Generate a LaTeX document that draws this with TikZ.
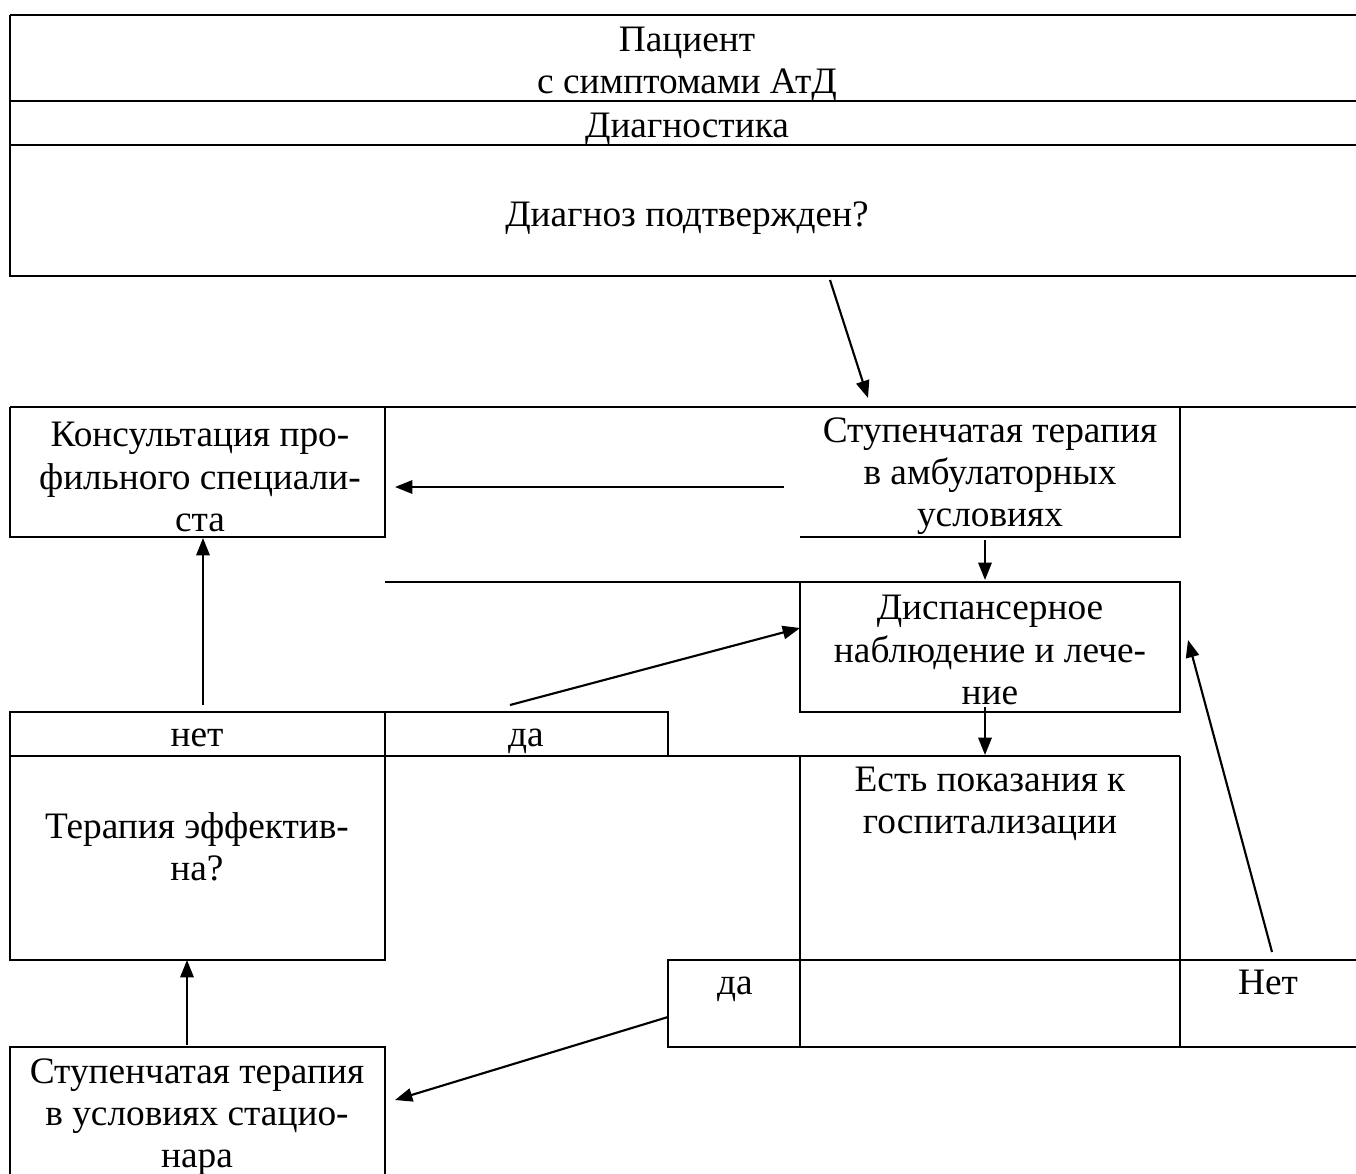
\documentclass[tikz,border=0pt]{standalone}
\usepackage{fontspec}
\setmainfont{Liberation Serif}
\usetikzlibrary{arrows.meta}
\begin{document}
\begin{tikzpicture}[x=0.75pt,y=-0.75pt,
  rule/.style={line width=1.7pt},
  conn/.style={line width=1.6pt,-{Triangle[length=13pt,width=10pt]}},
  lbl/.style={inner sep=0pt,align=center,font=\fontsize{28}{31.7}\selectfont}]
\useasboundingbox (0,0) rectangle (1356,1174);
% ---- frame lines ----
\draw[rule] (10,15) -- (1356,15);
\draw[rule] (10,15) -- (10,276) -- (1356,276);
\draw[rule] (10,101) -- (1356,101);
\draw[rule] (10,145) -- (1356,145);
\draw[rule] (10,407) -- (1356,407);
\draw[rule] (10,407) -- (10,537) -- (385,537) -- (385,407);
\draw[rule] (800,537) -- (1180,537) -- (1180,407);
\draw[rule] (385,582) -- (1180,582) -- (1180,712) -- (800,712) -- (800,582);
\draw[rule] (10,756) -- (10,712) -- (668,712) -- (668,756);
\draw[rule] (385,712) -- (385,756);
\draw[rule] (10,756) -- (1180,756);
\draw[rule] (10,756) -- (10,960) -- (385,960) -- (385,756);
\draw[rule] (800,756) -- (800,1047);
\draw[rule] (1180,756) -- (1180,1047);
\draw[rule] (1356,960) -- (668,960) -- (668,1047) -- (1356,1047);
\draw[rule] (10,1174) -- (10,1047) -- (385,1047) -- (385,1174);
% ---- texts ----
\node[lbl] (patient) at (687,64) {Пациент\\с симптомами АтД};
\node[lbl] (diag) at (687,129) {Диагностика};
\node[lbl] (confirm) at (687,218) {Диагноз подтвержден?};
\node[lbl] (consult) at (200,477) {Консультация про-\\фильного специали-\\ста};
\node[lbl] (ambul) at (990,476) {Ступенчатая терапия\\в амбулаторных\\условиях};
\node[lbl] (disp) at (990,650) {Диспансерное\\наблюдение и лече-\\ние};
\node[lbl,anchor=base] (no1) at (197,746) {нет};
\node[lbl,anchor=base] (yes1) at (526,746) {да};
\node[lbl] (effective) at (197,847) {Терапия эффектив-\\на?};
\node[lbl] (hosp) at (990,804) {Есть показания к\\госпитализации};
\node[lbl,anchor=base] (yes2) at (735,994) {да};
\node[lbl,anchor=base] (no2) at (1268,994) {Нет};
\node[lbl] (inpatient) at (197,1117) {Ступенчатая терапия\\в условиях стацио-\\нара};
% ---- connector ends ----
\coordinate (c1s) at (830,280);  \coordinate (c1e) at (868,398);
\coordinate (c2s) at (784,487);  \coordinate (c2e) at (395,487);
\coordinate (c3s) at (985,540);  \coordinate (c3e) at (985,580);
\coordinate (c4s) at (510,705);  \coordinate (c4e) at (800,628);
\coordinate (c5s) at (985,707);  \coordinate (c5e) at (985,755);
\coordinate (c6s) at (1272,952); \coordinate (c6e) at (1188,640);
\coordinate (c7s) at (668,1017); \coordinate (c7e) at (395,1100);
\coordinate (c8s) at (187,1045); \coordinate (c8e) at (187,960);
\coordinate (c9s) at (203,705);  \coordinate (c9e) at (203,538);
\draw[conn] (c1s) -- (c1e);
\draw[conn] (c2s) -- (c2e);
\draw[conn] (c3s) -- (c3e);
\draw[conn] (c4s) -- (c4e);
\draw[conn] (c5s) -- (c5e);
\draw[conn] (c6s) -- (c6e);
\draw[conn] (c7s) -- (c7e);
\draw[conn] (c8s) -- (c8e);
\draw[conn] (c9s) -- (c9e);
\end{tikzpicture}
\end{document}
